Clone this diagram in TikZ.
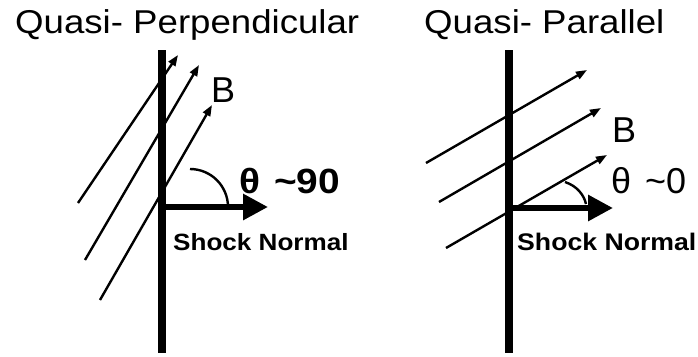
\documentclass[tikz,border=0pt]{standalone}
\usepackage{fontspec}
\setmainfont{Liberation Sans}
\newfontfamily\widefont[FakeStretch=1.11]{Liberation Sans}
\usetikzlibrary{arrows.meta}
\tikzset{
  shockfront/.style={line width=8pt},
  normalvec/.style={line width=6pt, -{Triangle[length=25pt,width=25pt]}},
  fieldline/.style={line width=2.4pt, -{Triangle[length=11pt,width=8pt]}},
  anglearc/.style={line width=2.4pt},
  lbl/.style={anchor=base west, inner sep=0pt}
}
\begin{document}
\begin{tikzpicture}[x=1pt,y=-1pt]
\useasboundingbox (0,0) rectangle (698,356);
% quasi-perpendicular
\node[lbl, font=\widefont\fontsize{33}{36}\selectfont] (tperp) at (15,33) {Quasi- Perpendicular};
\coordinate (s1top) at (162,50);
\coordinate (s1bot) at (162,353);
\coordinate (n1base) at (162,207);
\coordinate (n1tip) at (268,207);
\draw[shockfront] (s1top) -- (s1bot);
\foreach \i/\a/\b in {1/{78,203}/{178,55}, 2/{85,260}/{199,65}, 3/{100,300}/{212,105}} {
  \coordinate (pa\i) at (\a);
  \coordinate (pb\i) at (\b);
  \draw[fieldline] (pa\i) -- (pb\i);
}
\draw[normalvec] (n1base) -- (n1tip);
\draw[anglearc] (190,169) arc[start angle=-90, end angle=0, radius=38];
\node[lbl, font=\fontsize{36}{40}\selectfont] (bperp) at (211,102) {B};
\node[lbl, font=\widefont\fontsize{35}{40}\selectfont\bfseries] (thperp) at (239,193) {θ\hspace{3pt} \textasciitilde90};
\node[lbl, font=\widefont\fontsize{23.5}{26}\selectfont\bfseries] (snperp) at (173,250) {Shock Normal};
% quasi-parallel
\node[lbl, font=\widefont\fontsize{33}{36}\selectfont] (tpar) at (424,33) {Quasi- Parallel};
\coordinate (s2top) at (509,50);
\coordinate (s2bot) at (509,353);
\coordinate (n2base) at (509,208);
\coordinate (n2tip) at (613,208);
\draw[shockfront] (s2top) -- (s2bot);
\foreach \i/\a/\b in {1/{426,163}/{587,70}, 2/{439,202}/{601,108}, 3/{446,248}/{607,155}} {
  \coordinate (qa\i) at (\a);
  \coordinate (qb\i) at (\b);
  \draw[fieldline] (qa\i) -- (qb\i);
}
\draw[normalvec] (n2base) -- (n2tip);
\draw[anglearc] (565,182) .. controls (577,186) and (584,195) .. (586,204);
\node[lbl, font=\fontsize{36}{40}\selectfont] (bpar) at (612,142) {B};
\node[lbl, font=\fontsize{36}{40}\selectfont] (thpar) at (611,193) {θ\hspace{4pt} \textasciitilde0};
\node[lbl, font=\widefont\fontsize{24}{26}\selectfont\bfseries] (snpar) at (517,250) {Shock Normal};
\end{tikzpicture}
\end{document}
